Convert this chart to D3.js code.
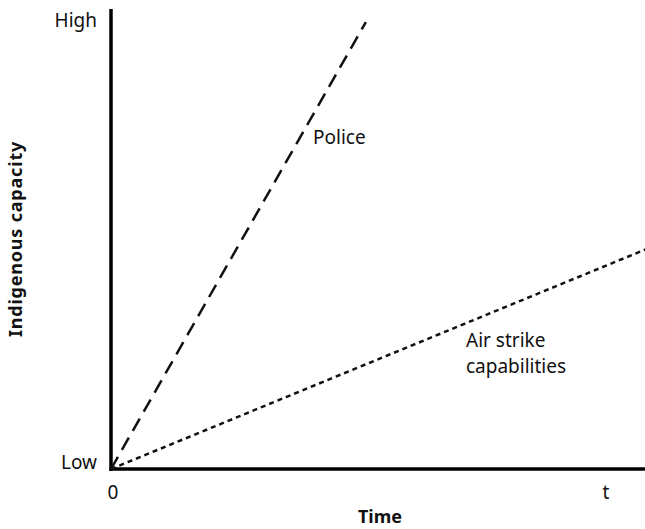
<!DOCTYPE html>
<html>
<head>
<meta charset="utf-8">
<script src="https://cdn.jsdelivr.net/npm/d3@7"></script>
<style>
  body { margin: 0; background: #fff; }
  text { font-family: "Noto Sans", "Open Sans", sans-serif; fill: #111; }
</style>
</head>
<body>
<script>
// time runs 0..1 (0 to t), capacity runs 0..1 (Low to High)
var xTicks = ['0', 't'];
var yTicks = ['Low', 'High'];
var policeTime = [0, 0.517];
var policeCap = [0, 0.978];
var airTime = [0, 1.09];
var airCap = [0, 0.483];

var width = 645, height = 529;
var x0 = 111, y0 = 469;

var x = d3.scaleLinear().domain([0, 1]).range([x0, 604]);
var y = d3.scaleLinear().domain([0, 1]).range([y0, 12]);

var svg = d3.select('body').append('svg').attr('width', width).attr('height', height);

// axes
svg.append('line').attr('x1', x0).attr('x2', x0).attr('y1', y(1) - 3).attr('y2', y0 + 2)
  .attr('stroke', '#000').attr('stroke-width', 3.5);
svg.append('line').attr('x1', x0 - 1.5).attr('x2', width).attr('y1', y0).attr('y2', y0)
  .attr('stroke', '#000').attr('stroke-width', 3.5);

// tick labels
svg.selectAll('.ylab').data(yTicks).enter().append('text')
  .attr('x', x0 - 14).attr('y', function (d, i) { return y(i) + (i ? 15 : 0); })
  .attr('text-anchor', 'end').attr('font-size', 19).text(function (d) { return d; });

svg.selectAll('.xlab').data(xTicks).enter().append('text')
  .attr('x', function (d, i) { return x(i) + 2; }).attr('y', y0 + 30)
  .attr('text-anchor', 'middle').attr('font-size', 19).text(function (d) { return d; });

// axis titles
svg.append('text').attr('x', 380).attr('y', 523)
  .attr('text-anchor', 'middle').attr('font-size', 18).attr('font-weight', 'bold').text('Time');
svg.append('text').attr('transform', 'translate(22,' + 239 + ') rotate(-90)')
  .attr('text-anchor', 'middle').attr('font-size', 18).attr('font-weight', 'bold')
  .attr('letter-spacing', 0.8).text('Indigenous capacity');

var line = d3.line().x(function (d) { return x(d[0]); }).y(function (d) { return y(d[1]); });

svg.append('path').attr('d', line(d3.zip(policeTime, policeCap)))
  .attr('fill', 'none').attr('stroke', '#111').attr('stroke-width', 2.5)
  .attr('stroke-dasharray', '14,8');

svg.append('path').attr('d', line(d3.zip(airTime, airCap)))
  .attr('fill', 'none').attr('stroke', '#111').attr('stroke-width', 2.5)
  .attr('stroke-dasharray', '5,4');

// series labels
svg.append('text').attr('x', 313).attr('y', 144).attr('font-size', 19).text('Police');
svg.append('text').attr('x', 466).attr('y', 347).attr('font-size', 19).text('Air strike');
svg.append('text').attr('x', 466).attr('y', 373).attr('font-size', 19).text('capabilities');
</script>
</body>
</html>
